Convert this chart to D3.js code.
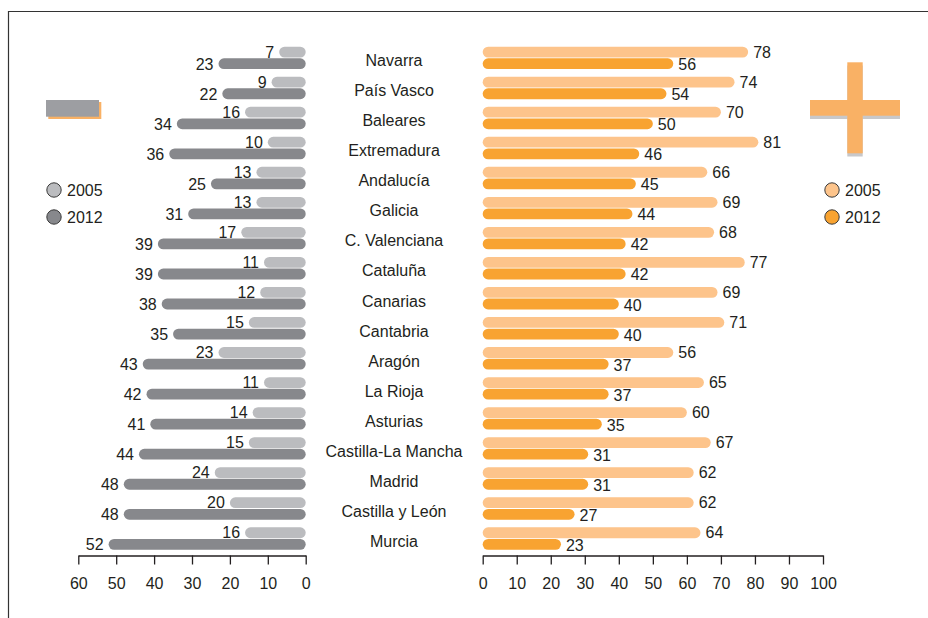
<!DOCTYPE html>
<html lang="es">
<head>
<meta charset="utf-8">
<title>2005 - 2012 por comunidad</title>
<script src="https://d3js.org/d3.v7.min.js"></script>
<style>
  body { margin: 0; background: #fff; }
  text { font-family: "Liberation Sans", Arial, sans-serif; fill: #231f20; }
</style>
</head>
<body>
<div id="chart"></div>
<script>
// data
var regions = ["Navarra", "País Vasco", "Baleares", "Extremadura", "Andalucía", "Galicia",
  "C. Valenciana", "Cataluña", "Canarias", "Cantabria", "Aragón", "La Rioja", "Asturias",
  "Castilla-La Mancha", "Madrid", "Castilla y León", "Murcia"]
var minus2005 = [7, 9, 16, 10, 13, 13, 17, 11, 12, 15, 23, 11, 14, 15, 24, 20, 16]
var minus2012 = [23, 22, 34, 36, 25, 31, 39, 39, 38, 35, 43, 42, 41, 44, 48, 48, 52]
var plus2005 = [78, 74, 70, 81, 66, 69, 68, 77, 69, 71, 56, 65, 60, 67, 62, 62, 64]
var plus2012 = [56, 54, 50, 46, 45, 44, 42, 42, 40, 40, 37, 37, 35, 31, 31, 27, 23]
var years = ["2005", "2012"]
var leftTicks = [60, 50, 40, 30, 20, 10, 0]
var rightTicks = [0, 10, 20, 30, 40, 50, 60, 70, 80, 90, 100]

var width = 928, height = 618
var grayLight = "#bbbcbf", grayDark = "#87888c"
var orangeLight = "#fdc48b", orangeDark = "#f8a331"
var fs = "16px"

var svg = d3.select("#chart").append("svg")
  .attr("width", width)
  .attr("height", height)

// frame
svg.append("path")
  .attr("d", "M8.5,618V11.5H928")
  .attr("fill", "none")
  .attr("stroke", "#333")
  .attr("stroke-width", 1.2)

var y = d3.scaleBand()
  .domain(regions)
  .range([46.7, 46.7 + 30.04 * regions.length])

var xl = d3.scaleLinear().domain([0, 60]).range([305.7, 78.3])
var xr = d3.scaleLinear().domain([0, 100]).range([482.7, 823])

var barH = 10.8, gap = 11.6

var rows = regions.map(function(r, i) {
  return {name: r, m05: minus2005[i], m12: minus2012[i], p05: plus2005[i], p12: plus2012[i]}
})

var row = svg.selectAll("g.row")
  .data(rows)
  .enter().append("g")
  .attr("class", "row")
  .attr("transform", function(d) { return "translate(0," + y(d.name) + ")" })

// left bars
row.append("rect")
  .attr("x", function(d) { return xl(d.m05) })
  .attr("width", function(d) { return xl(0) - xl(d.m05) })
  .attr("y", 0).attr("height", barH)
  .attr("rx", barH / 2)
  .attr("fill", grayLight)
row.append("rect")
  .attr("x", function(d) { return xl(d.m12) })
  .attr("width", function(d) { return xl(0) - xl(d.m12) })
  .attr("y", gap).attr("height", barH)
  .attr("rx", barH / 2)
  .attr("fill", grayDark)

row.append("text")
  .attr("x", function(d) { return xl(d.m05) - 5 })
  .attr("y", 11)
  .attr("text-anchor", "end")
  .style("font-size", fs)
  .text(function(d) { return d.m05 })
row.append("text")
  .attr("x", function(d) { return xl(d.m12) - 5 })
  .attr("y", 23)
  .attr("text-anchor", "end")
  .style("font-size", fs)
  .text(function(d) { return d.m12 })

// right bars
row.append("rect")
  .attr("x", xr(0))
  .attr("width", function(d) { return xr(d.p05) - xr(0) })
  .attr("y", 0).attr("height", barH)
  .attr("rx", barH / 2)
  .attr("fill", orangeLight)
row.append("rect")
  .attr("x", xr(0))
  .attr("width", function(d) { return xr(d.p12) - xr(0) })
  .attr("y", gap).attr("height", barH)
  .attr("rx", barH / 2)
  .attr("fill", orangeDark)

row.append("text")
  .attr("x", function(d) { return xr(d.p05) + 5 })
  .attr("y", 11)
  .style("font-size", fs)
  .text(function(d) { return d.p05 })
row.append("text")
  .attr("x", function(d) { return xr(d.p12) + 5 })
  .attr("y", 23.5)
  .style("font-size", fs)
  .text(function(d) { return d.p12 })

// region names
row.append("text")
  .attr("x", 394)
  .attr("y", 19.5)
  .attr("text-anchor", "middle")
  .style("font-size", fs)
  .text(function(d) { return d.name })

// axes
var axisY = 555.5
svg.append("g")
  .attr("transform", "translate(0," + axisY + ")")
  .call(d3.axisBottom(xl).tickValues(leftTicks).tickSize(9).tickSizeOuter(0).tickPadding(13))
svg.append("g")
  .attr("transform", "translate(0," + axisY + ")")
  .call(d3.axisBottom(xr).tickValues(rightTicks).tickSize(9).tickSizeOuter(0).tickPadding(13))
svg.selectAll(".tick text")
  .style("font-size", fs)
  .style("font-family", "'Liberation Sans', Arial, sans-serif")
  .attr("fill", "#231f20")
svg.selectAll(".domain, .tick line").attr("stroke", "#231f20").attr("stroke-width", 1.3)

// minus sign
svg.append("rect").attr("x", 48.3).attr("y", 102).attr("width", 53).attr("height", 17).attr("fill", "#f9b165")
svg.append("rect").attr("x", 46).attr("y", 100).attr("width", 53).attr("height", 16.7).attr("fill", "#9d9ea2")

// plus sign (shadow first)
svg.append("rect").attr("x", 810).attr("y", 103.3).attr("width", 90).attr("height", 15.7).attr("fill", "#c8c8ca")
svg.append("rect").attr("x", 847.3).attr("y", 65.5).attr("width", 15.4).attr("height", 91).attr("fill", "#c8c8ca")
svg.append("rect").attr("x", 810).attr("y", 100).attr("width", 90).attr("height", 15.7).attr("fill", "#f9b165")
svg.append("rect").attr("x", 847.3).attr("y", 62.3).attr("width", 15.4).attr("height", 91).attr("fill", "#f9b165")

// legends
function legend(x, colors) {
  var g = svg.append("g").attr("transform", "translate(" + x + ",0)")
  years.forEach(function(yr, i) {
    var cy = 190 + i * 27
    g.append("circle").attr("cx", 0).attr("cy", cy).attr("r", 7.2)
      .attr("fill", colors[i]).attr("stroke", "#3a3a3a").attr("stroke-width", 1)
    g.append("text").attr("x", 13).attr("y", cy + 5.5)
      .style("font-size", fs).text(yr)
  })
}
legend(54, [grayLight, grayDark])
legend(832, [orangeLight, orangeDark])
</script>
</body>
</html>
